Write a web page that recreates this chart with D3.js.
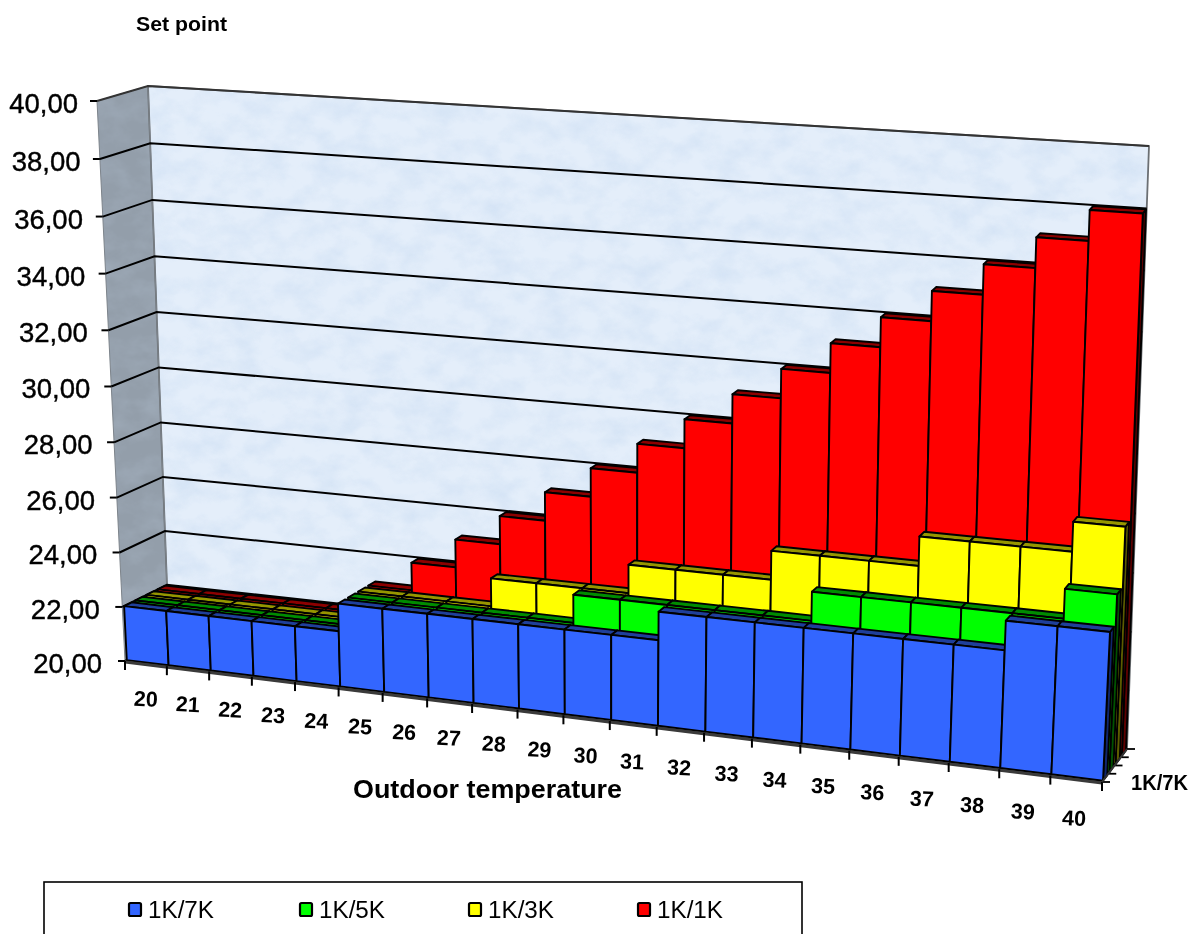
<!DOCTYPE html>
<html><head><meta charset="utf-8">
<script src="https://cdn.jsdelivr.net/npm/d3@7"></script>
<style>html,body{margin:0;padding:0;background:#fff;overflow:hidden}svg{display:block;filter:blur(0.45px)}text{font-family:"Liberation Sans",Arial,sans-serif;fill:#000}</style>
</head><body><svg id="c" width="1196" height="934"></svg>
<script>
const categories=[20,21,22,23,24,25,26,27,28,29,30,31,32,33,34,35,36,37,38,39,40];
const seriesNames=["1K/7K","1K/5K","1K/3K","1K/1K"];
const s7=[22,22,22,22,22,23,23,23,23,23,23,23,24,24,24,24,24,24,24,25,25];
const s5=[22,22,22,22,22,23,23,23,23,23,24,24,24,24,24,25,25,25,25,25,26];
const s3=[22,22,22,22,22,23,23,23,24,24,24,25,25,25,26,26,26,27,27,27,28];
const s1=[22,22,22,22,22,23,24,25,26,27,28,29,30,31,32,33,34,35,36,37,38];
const seriesValues=[s7,s5,s3,s1];
const faceColors=["#3366ff","#00ff00","#ffff00","#ff0000"];
const topColors=["#1f3f9a","#008c00","#969600","#8c0000"];
const sideColors=["#10266e","#005200","#5c5c00","#5c0000"];
const valueTicks=[20,22,24,26,28,30,32,34,36,38,40];

const svg=d3.select("#c");
const defs=svg.append("defs");
const f=defs.append("filter").attr("id","tex").attr("x",0).attr("y",0).attr("width",1).attr("height",1);
f.append("feTurbulence").attr("type","fractalNoise").attr("baseFrequency","0.035 0.05").attr("numOctaves",4).attr("seed",7).attr("result","n");
f.append("feColorMatrix").attr("in","n").attr("type","matrix").attr("values","0 0 0 0 0.62  0 0 0 0 0.74  0 0 0 0 0.90  1.8 0 0 0 -0.66").attr("result","m");
f.append("feComposite").attr("in","m").attr("in2","SourceAlpha").attr("operator","in");

// perspective box: corners [front/back][left/right][bottom/top]
const C={fl0:[125,661],fr0:[1102,782],bl0:[169,638],br0:[1127,749],
         fl1:[97,101],fr1:[1131,169],bl1:[148,86],br1:[1149,146]};
const lerp=(a,b,t)=>[a[0]+(b[0]-a[0])*t,a[1]+(b[1]-a[1])*t];
const warp=g=>t=>t/((1-g)+g*t);
const cx=d3.scaleLinear().domain([0,categories.length]).range([0,1]);
const cy=d3.scaleLinear().domain([20,40]).range([0,1]);
const cz=d3.scaleLinear().domain([0,seriesNames.length]).range([0,1]);
const wx=warp(-0.1168), wy=warp(-0.04);
function P(c,d,v){
  const u=wx(cx(c)),w=cz(d),h=wy(cy(v));
  const f0=lerp(C.fl0,C.fr0,u),f1=lerp(C.fl1,C.fr1,u),b0=lerp(C.bl0,C.br0,u),b1=lerp(C.bl1,C.br1,u);
  return lerp(lerp(f0,f1,h),lerp(b0,b1,h),w);
}
const poly=pts=>pts.map(p=>p[0].toFixed(1)+","+p[1].toFixed(1)).join(" ");
const n=categories.length, rows=seriesNames.length;
const g=svg.append("g");

// walls
const leftWall=[P(0,0,20),P(0,0,40),P(0,rows,40),P(0,rows,20)];
const backWall=[P(0,rows,20),P(0,rows,40),P(n,rows,40),P(n,rows,20)];
g.append("polygon").attr("points",poly(leftWall)).attr("fill","#939eaa");
g.append("polygon").attr("points",poly(leftWall)).attr("fill","#000").attr("filter","url(#tex)").attr("opacity",.18);
g.append("polygon").attr("points",poly(backWall)).attr("fill","#e4eefa");
g.append("polygon").attr("points",poly(backWall)).attr("fill","#000").attr("filter","url(#tex)").attr("opacity",.7);
g.append("polygon").attr("points",poly(backWall)).attr("fill","none").attr("stroke","#6b6f73").attr("stroke-width",1.8);
g.append("polygon").attr("points",poly(leftWall)).attr("fill","none").attr("stroke","#7d848b").attr("stroke-width",1);

// gridlines
const labelOffset=d3.scaleLinear().domain([20,40]).range([23,19]);
valueTicks.forEach(v=>{
  g.append("polyline").attr("points",poly([P(0,0,v),P(0,rows,v),P(n,rows,v)]))
   .attr("fill","none").attr("stroke",v===40?"#333":"#000").attr("stroke-width",2);
  const p=P(0,0,v);
  g.append("line").attr("x1",p[0]-7).attr("x2",p[0]).attr("y1",p[1]).attr("y2",p[1]).attr("stroke","#000").attr("stroke-width",2);
  g.append("text").attr("x",p[0]-labelOffset(v)).attr("y",p[1]+12).attr("text-anchor","end")
   .attr("font-size",27.5).attr("stroke","#000").attr("stroke-width",.4).text(v.toFixed(2).replace(".",","));
});

// floor
g.append("polygon").attr("points",poly([P(0,0,20),P(n,0,20),P(n,rows,20),P(0,rows,20)])).attr("fill","#8c8c8c").attr("stroke","#333").attr("stroke-width",1);

// bars, back row to front row, left to right
const gap=0.16;
for(let r=rows-1;r>=0;r--){
  const d0=r+gap,d1=r+1-gap;
  const row=g.append("g");
  categories.forEach((cat,i)=>{
    const v=seriesValues[r][i];
    const st={stroke:"#000","stroke-width":1.9,"stroke-linejoin":"round"};
    const add=(pts,fill)=>{const e=row.append("polygon").attr("points",poly(pts)).attr("fill",fill);Object.entries(st).forEach(([k,x])=>e.attr(k,x));};
    add([P(i+1,d0,20),P(i+1,d0,v),P(i+1,d1,v),P(i+1,d1,20)],sideColors[r]);
    add([P(i,d0,v),P(i,d1,v),P(i+1,d1,v),P(i+1,d0,v)],topColors[r]);
    add([P(i,d0,20),P(i,d0,v),P(i+1,d0,v),P(i+1,d0,20)],faceColors[r]);
  });
}

// floor front edge + ticks
g.append("line").attr("x1",P(0,0,20)[0]).attr("y1",P(0,0,20)[1]+1).attr("x2",P(n,0,20)[0]).attr("y2",P(n,0,20)[1]+1)
 .attr("stroke","#3a3a3a").attr("stroke-width",3);
d3.range(n+1).forEach(i=>{
  const p=P(i,0,20);
  g.append("line").attr("x1",p[0]).attr("x2",p[0]).attr("y1",p[1]).attr("y2",p[1]+9).attr("stroke","#000").attr("stroke-width",2);
});
d3.range(rows+1).forEach(i=>{
  const p=P(n,i,20);
  g.append("line").attr("x1",p[0]).attr("x2",p[0]+8).attr("y1",p[1]).attr("y2",p[1]).attr("stroke","#000").attr("stroke-width",1.8);
});
g.append("line").attr("x1",P(n,0,20)[0]).attr("y1",P(n,0,20)[1]).attr("x2",P(n,rows,20)[0]).attr("y2",P(n,rows,20)[1]).attr("stroke","#333").attr("stroke-width",2);

// category labels
const labelY=d3.scaleLinear().domain([0,n-1]).range([35,39]);
const labelX=d3.scaleLinear().domain([0,n-1]).range([0,-2]);
categories.forEach((cat,i)=>{
  const p=P(i+.5,0,20), x=p[0]+labelX(i), y=p[1]+labelY(i);
  g.append("text").attr("transform",`translate(${x},${y}) rotate(3)`).attr("text-anchor","middle").attr("dy",".36em")
   .attr("font-size",21.5).attr("font-weight","bold").text(cat);
});

// titles
svg.append("text").attr("x",136).attr("y",31).attr("font-size",21).attr("font-weight","bold").attr("textLength",91).attr("lengthAdjust","spacingAndGlyphs").text("Set point");
svg.append("text").attr("x",353).attr("y",798).attr("font-size",25).attr("font-weight","bold").attr("textLength",269).attr("lengthAdjust","spacingAndGlyphs").text("Outdoor temperature");
svg.append("text").attr("x",1131).attr("y",790).attr("font-size",22).attr("font-weight","bold").attr("textLength",57).attr("lengthAdjust","spacingAndGlyphs").text(seriesNames[0]);

// legend
svg.append("rect").attr("x",44).attr("y",882).attr("width",758).attr("height",80).attr("fill","#fff").attr("stroke","#000").attr("stroke-width",1.6);
const legendX=[128,299,468,637];
seriesNames.forEach((nm,i)=>{
  svg.append("rect").attr("x",legendX[i]+1).attr("y",903).attr("width",12).attr("height",13).attr("rx",1.5).attr("fill",faceColors[i]).attr("stroke","#000").attr("stroke-width",2.2);
  svg.append("text").attr("x",legendX[i]+20).attr("y",918).attr("font-size",23).attr("textLength",66).attr("lengthAdjust","spacingAndGlyphs").text(nm);
});
</script></body></html>
